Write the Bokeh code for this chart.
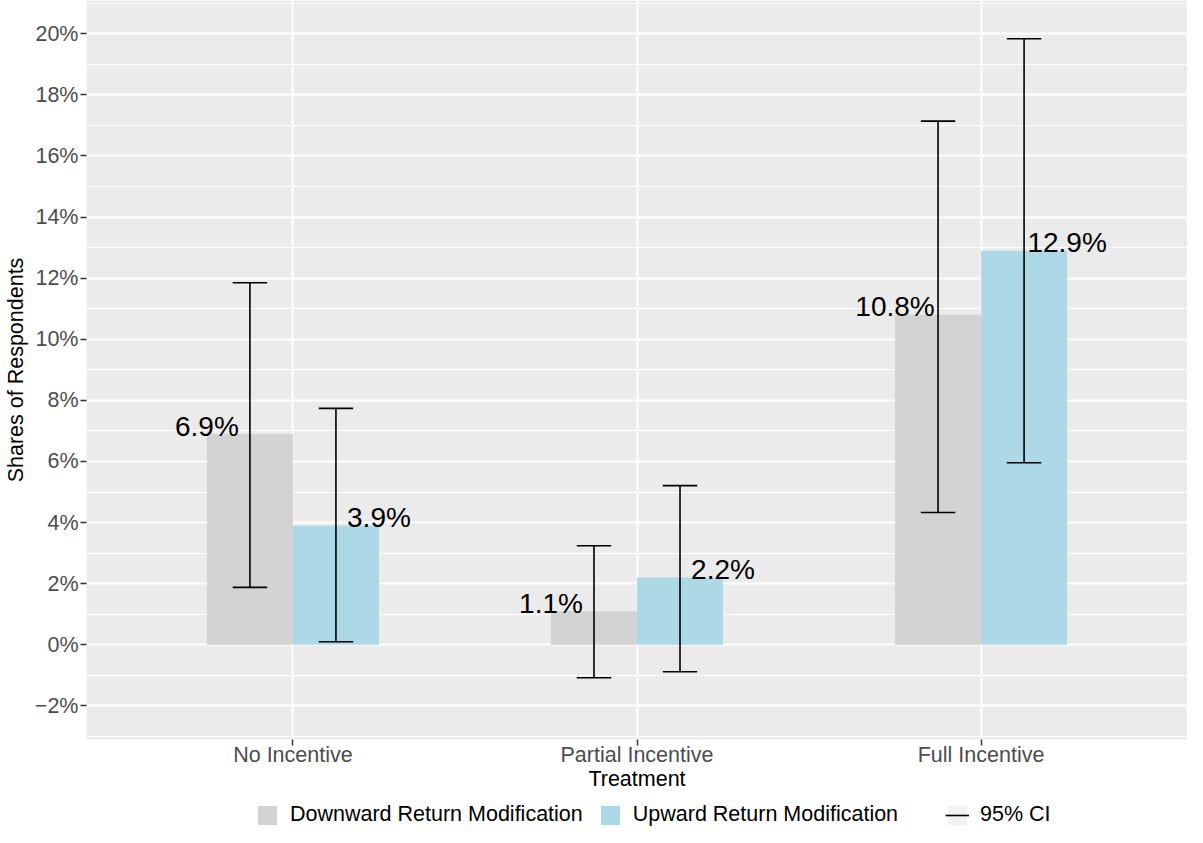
from bokeh.plotting import figure
from bokeh.layouts import column
from bokeh.models import FactorRange, Range1d, FixedTicker, Legend, LegendItem, ColumnDataSource
from bokeh.transform import dodge
from bokeh.core.properties import value
from bokeh.embed import file_html
from bokeh.resources import INLINE

# ---- data ----
treatments = ["No Incentive", "Partial Incentive", "Full Incentive"]
down_share = [6.9, 1.1, 10.8]
up_share = [3.9, 2.2, 12.9]
down_lo = [1.88, -1.08, 4.33]
down_hi = [11.85, 3.24, 17.14]
up_lo = [0.10, -0.88, 5.96]
up_hi = [7.74, 5.21, 19.84]
down_labels = ["6.9%", "1.1%", "10.8%"]
up_labels = ["3.9%", "2.2%", "12.9%"]
y_ticks = [-2, 0, 2, 4, 6, 8, 10, 12, 14, 16, 18, 20]
y_tick_labels = ["\u22122%", "0%", "2%", "4%", "6%", "8%", "10%", "12%", "14%", "16%", "18%", "20%"]
y_minor = [-3, -1, 1, 3, 5, 7, 9, 11, 13, 15, 17, 19, 21]
series_names = ["Downward Return Modification", "Upward Return Modification", "95% CI"]

FONT = "Liberation Sans"
GREY = "#D3D3D3"
BLUE = "#ADD8E6"
W = 1187

src = ColumnDataSource(dict(
    cat=treatments, down=down_share, up=up_share,
    dlo=down_lo, dhi=down_hi, ulo=up_lo, uhi=up_hi,
    dlab=down_labels, ulab=up_labels,
))

xr = FactorRange(factors=treatments, range_padding=0.1, range_padding_units="absolute")

p = figure(
    width=W, height=793,
    x_range=xr,
    y_range=Range1d(-3.1, 21.09),
    output_backend="svg", toolbar_location=None,
    min_border_left=78, min_border_right=0, min_border_top=0, min_border_bottom=50,
)
p.background_fill_color = "#EBEBEB"
p.border_fill_color = "white"
p.outline_line_color = None

# grid
p.ygrid.ticker = FixedTicker(ticks=y_ticks, minor_ticks=y_minor)
p.yaxis.ticker = FixedTicker(ticks=y_ticks, minor_ticks=y_minor)
p.ygrid.grid_line_color = "white"
p.ygrid.grid_line_width = 2
p.ygrid.minor_grid_line_color = "white"
p.ygrid.minor_grid_line_width = 1
p.xgrid.grid_line_color = "white"
p.xgrid.grid_line_width = 2

# axes
for ax in (p.xaxis[0], p.yaxis[0]):
    ax.axis_line_color = None
    ax.major_tick_line_color = "#333333"
    ax.major_tick_line_width = 1.5
    ax.major_tick_out = 6
    ax.major_tick_in = 0
    ax.minor_tick_line_color = None
    ax.major_label_text_font = FONT
    ax.major_label_text_font_size = "21.5px"
    ax.major_label_text_color = "#4D4D4D"
    ax.axis_label_text_font = FONT
    ax.axis_label_text_font_size = "21.5px"
    ax.axis_label_text_font_style = "normal"
    ax.axis_label_text_color = "black"

p.yaxis.major_label_overrides = {t: l for t, l in zip(y_ticks, y_tick_labels)}
p.yaxis.major_label_standoff = 2
p.yaxis.axis_label = "Shares of Respondents"
p.yaxis.axis_label_standoff = 4
p.xaxis.axis_label = "Treatment"
p.xaxis.major_label_standoff = -3
p.xaxis.axis_label_standoff = -3

# bars
down_bar = p.vbar(x=dodge("cat", -0.125, range=xr), top="down", bottom=0, width=0.25,
                  source=src, fill_color=GREY, line_color=None)
up_bar = p.vbar(x=dodge("cat", 0.125, range=xr), top="up", bottom=0, width=0.25,
                source=src, fill_color=BLUE, line_color=None)

# error bars (stems + caps)
for off, lo, hi in ((-0.125, "dlo", "dhi"), (0.125, "ulo", "uhi")):
    p.segment(x0=dodge("cat", off, range=xr), x1=dodge("cat", off, range=xr),
              y0=lo, y1=hi, source=src, line_color="black", line_width=1.6)
    for ycol in (lo, hi):
        p.segment(x0=dodge("cat", off - 0.05, range=xr), x1=dodge("cat", off + 0.05, range=xr),
                  y0=ycol, y1=ycol, source=src, line_color="black", line_width=1.6)

# value labels
p.text(x=dodge("cat", -0.25, range=xr), y="down", text="dlab", source=src,
       text_font=value(FONT), text_font_size="28px", text_color="black",
       text_align="center", text_baseline="alphabetic", y_offset=-8)
p.text(x=dodge("cat", 0.25, range=xr), y="up", text="ulab", source=src,
       text_font=value(FONT), text_font_size="28px", text_color="black",
       text_align="center", text_baseline="alphabetic", y_offset=-8)

# ---- legend strip (hidden key renderers; only their legend swatches are drawn) ----
lf = figure(width=W, height=34, x_range=xr, y_range=Range1d(-200, -199),
            x_axis_type=None, y_axis_type=None, output_backend="svg", toolbar_location=None,
            min_border_left=78, min_border_right=0, min_border_top=0, min_border_bottom=0)
lf.outline_line_color = None
lf.background_fill_color = "white"
lf.border_fill_color = "white"
lf.grid.visible = False

k_down = lf.vbar(x=dodge("cat", -0.125, range=xr), top="down", bottom=0, width=0.25,
                 source=src, fill_color=GREY, line_color=None, visible=False)
k_up = lf.vbar(x=dodge("cat", 0.125, range=xr), top="up", bottom=0, width=0.25,
               source=src, fill_color=BLUE, line_color=None, visible=False)
k_bg = lf.vbar(x=dodge("cat", 0.125, range=xr), top="uhi", bottom="ulo", width=0.25,
               source=src, fill_color="#F2F2F2", line_color=None, visible=False)
k_ci = lf.segment(x0=dodge("cat", 0.125, range=xr), x1=dodge("cat", 0.125, range=xr),
                  y0="ulo", y1="uhi", source=src, line_color="black", line_width=1.6, visible=False)


def make_legend(items, loc):
    return Legend(items=items, orientation="horizontal", location=loc,
                  glyph_width=24, glyph_height=24, label_height=24,
                  label_standoff=11, spacing=15, padding=0, margin=0,
                  border_line_color=None, background_fill_alpha=0,
                  label_text_font=FONT, label_text_font_size="21.5px", label_text_color="black")


lg1 = make_legend([LegendItem(label=series_names[0], renderers=[k_down]),
                   LegendItem(label=series_names[1], renderers=[k_up])], (169, 0))
lg2 = make_legend([LegendItem(label=series_names[2], renderers=[k_bg, k_ci])], (859, 0))
lf.add_layout(lg1, "center")
lf.add_layout(lg2, "center")

layout = column(p, lf, spacing=0)
open("out.html", "w").write(file_html(layout, INLINE))
